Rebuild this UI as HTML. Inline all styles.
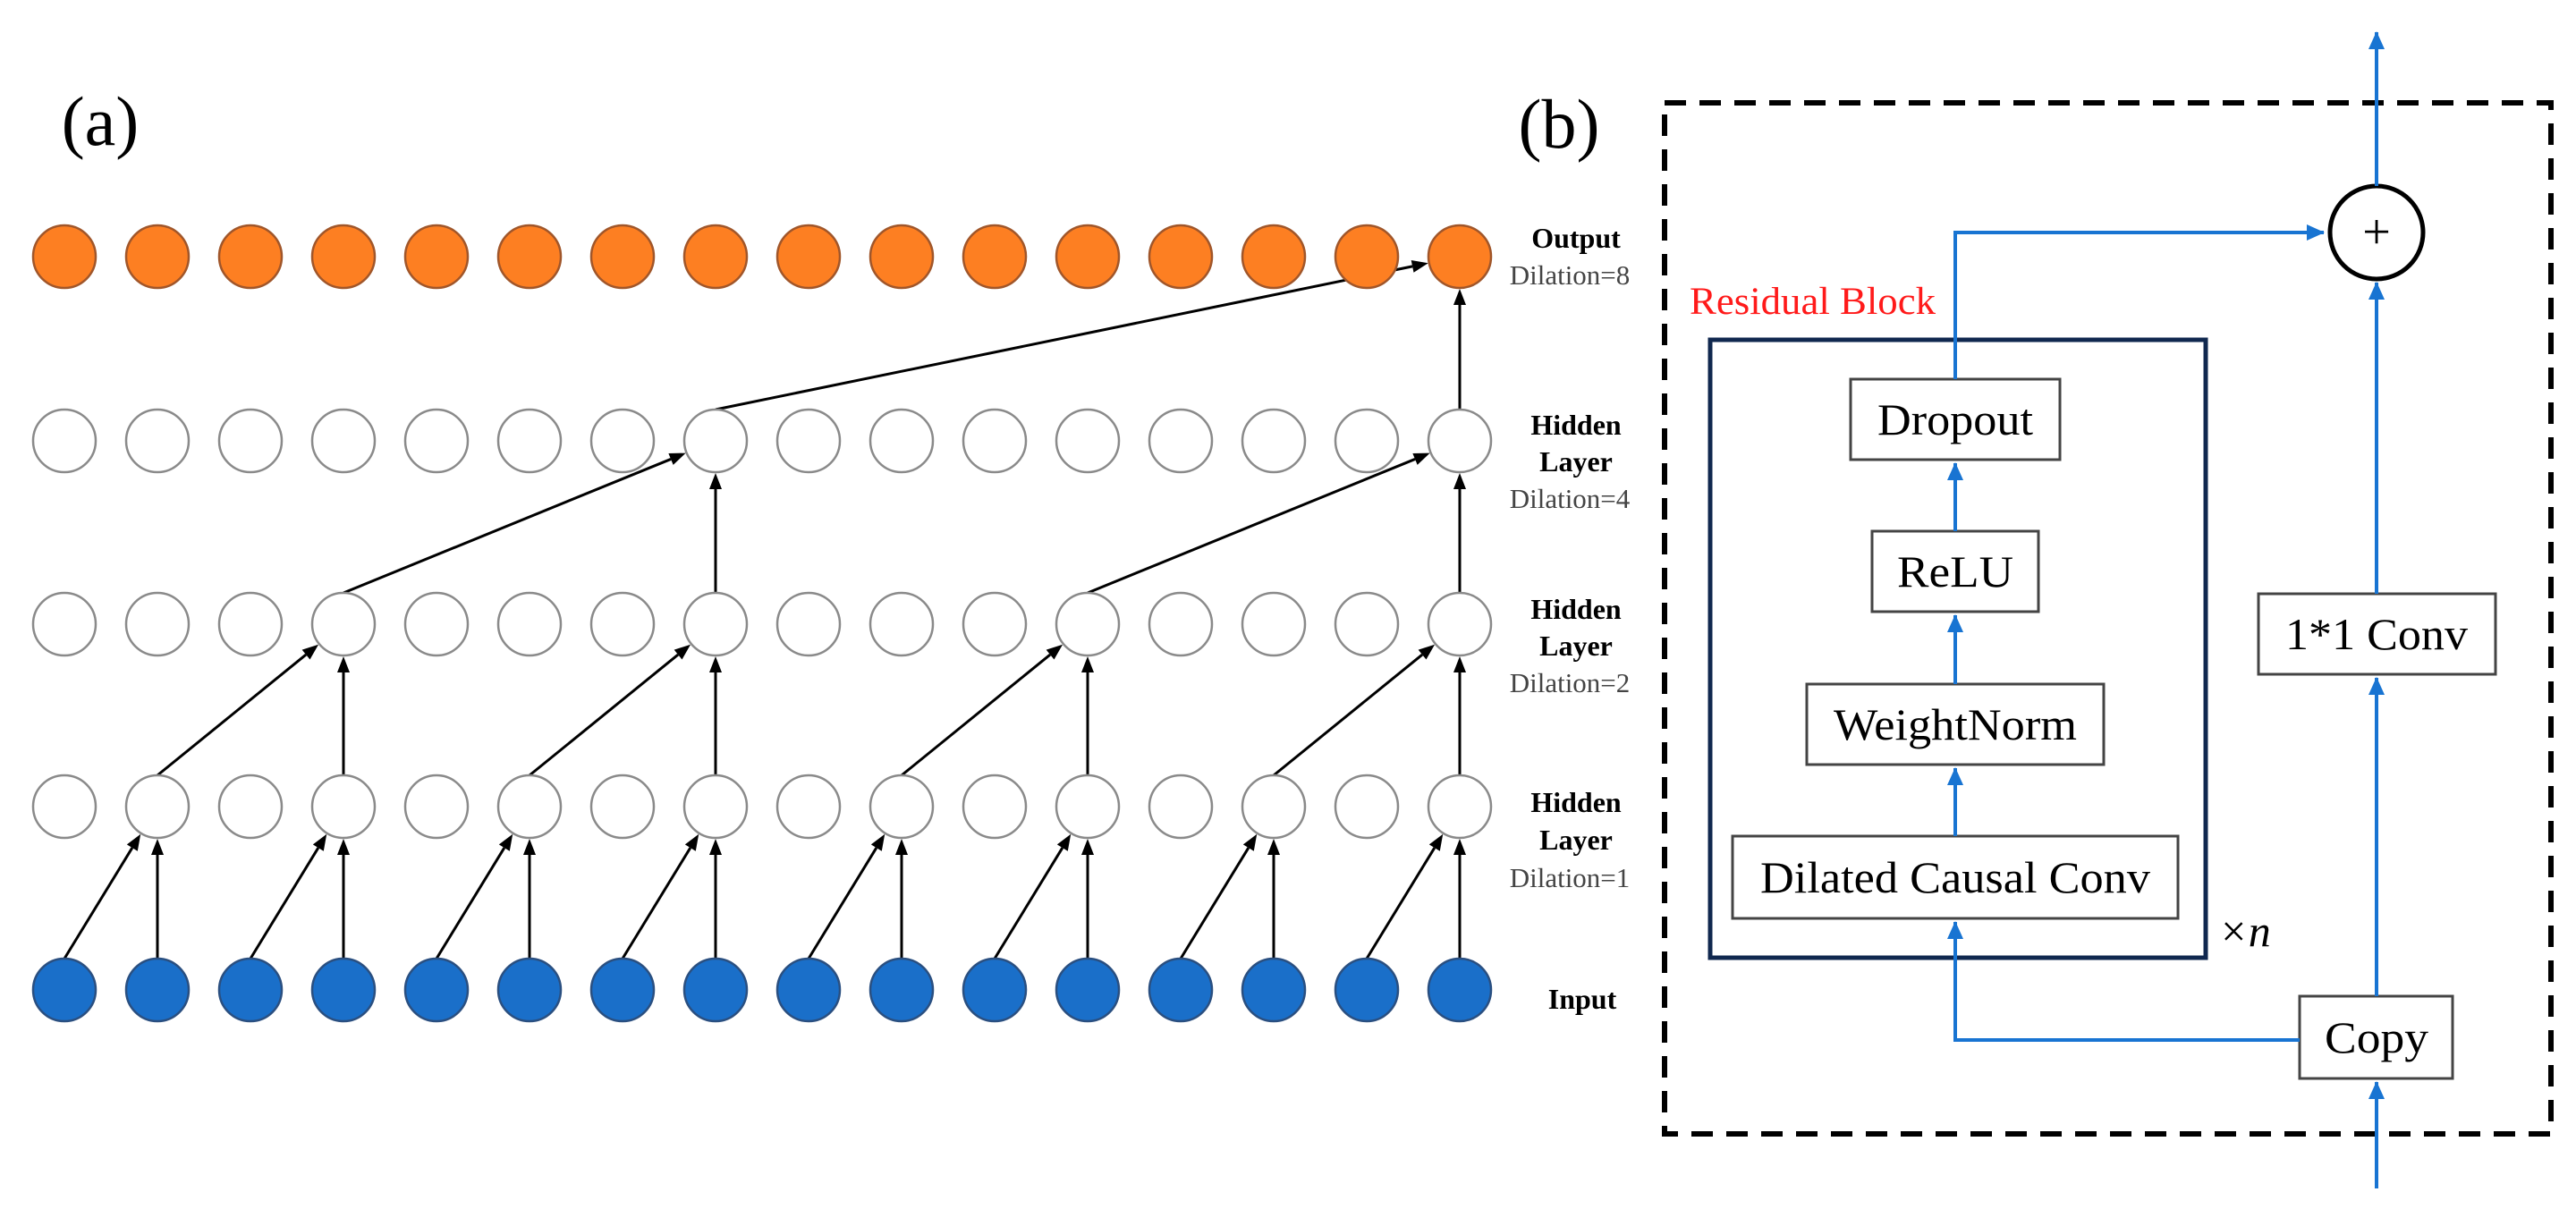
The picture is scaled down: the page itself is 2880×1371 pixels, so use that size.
<!DOCTYPE html>
<html><head><meta charset="utf-8">
<style>
html,body{margin:0;padding:0;background:#fff;}
svg{display:block;}
text{font-family:"Liberation Serif",serif;}
</style></head>
<body>
<svg id="s" width="2880" height="1371" viewBox="0 0 2880 1371" xmlns="http://www.w3.org/2000/svg">
<defs>
<marker id="ab" markerWidth="10" markerHeight="10" refX="9" refY="5" orient="auto" markerUnits="userSpaceOnUse" viewBox="0 0 10 10" style="overflow:visible">
<path d="M-10,-4 L10,5 L-10,14 Z" fill="#1874d2"/>
</marker>
</defs>
<rect width="2880" height="1371" fill="#fff"/>
<g id="left"></g>

<text x="112" y="162" font-size="78" text-anchor="middle">(a)</text>
<g text-anchor="middle">
<text x="1762" y="277" font-size="32" font-weight="bold">Output</text>
<text x="1755" y="318" font-size="31" fill="#444">Dilation=8</text>
<text x="1762" y="486" font-size="32" font-weight="bold">Hidden</text>
<text x="1762" y="527" font-size="32" font-weight="bold">Layer</text>
<text x="1755" y="568" font-size="31" fill="#444">Dilation=4</text>
<text x="1762" y="692" font-size="32" font-weight="bold">Hidden</text>
<text x="1762" y="733" font-size="32" font-weight="bold">Layer</text>
<text x="1755" y="774" font-size="31" fill="#444">Dilation=2</text>
<text x="1762" y="908" font-size="32" font-weight="bold">Hidden</text>
<text x="1762" y="950" font-size="32" font-weight="bold">Layer</text>
<text x="1755" y="992" font-size="31" fill="#444">Dilation=1</text>
<text x="1769" y="1128" font-size="32" font-weight="bold">Input</text>
</g>

<text x="1743" y="165" font-size="78" text-anchor="middle">(b)</text>
<rect x="1861" y="115" width="991" height="1153" fill="none" stroke="#000" stroke-width="6" stroke-dasharray="24,15"/>
<text x="1889" y="351" font-size="43" fill="#ff1a1a" textLength="275" lengthAdjust="spacingAndGlyphs">Residual Block</text>
<rect x="1912" y="380" width="554" height="691" fill="none" stroke="#10284f" stroke-width="5"/>
<text x="2480" y="1058" font-size="50" font-style="italic">×n</text>

<g fill="#fff" stroke="#444" stroke-width="3">
<rect x="2069" y="424" width="234" height="90"/>
<rect x="2093" y="594" width="186" height="90"/>
<rect x="2020" y="765" width="332" height="90"/>
<rect x="1937" y="935" width="498" height="92"/>
<rect x="2525" y="664" width="265" height="90"/>
<rect x="2571" y="1114" width="171" height="92"/>
</g>
<g font-size="50" text-anchor="middle">
<text x="2186" y="486" textLength="174" lengthAdjust="spacingAndGlyphs">Dropout</text>
<text x="2186" y="656" textLength="130" lengthAdjust="spacingAndGlyphs">ReLU</text>
<text x="2186" y="827" textLength="272" lengthAdjust="spacingAndGlyphs">WeightNorm</text>
<text x="2186" y="998" textLength="436" lengthAdjust="spacingAndGlyphs">Dilated Causal Conv</text>
<text x="2657" y="726" textLength="204" lengthAdjust="spacingAndGlyphs">1*1 Conv</text>
<text x="2657" y="1177" textLength="116" lengthAdjust="spacingAndGlyphs">Copy</text>
</g>

<circle cx="2657" cy="260" r="52" fill="#fff" stroke="#000" stroke-width="5"/>
<text x="2657" y="278" font-size="56" text-anchor="middle">+</text>

<g fill="none" stroke="#1874d2" stroke-width="4">
<path d="M2186,424 V260 H2598" marker-end="url(#ab)"/>
<line x1="2186" y1="594" x2="2186" y2="518" marker-end="url(#ab)"/>
<line x1="2186" y1="765" x2="2186" y2="688" marker-end="url(#ab)"/>
<line x1="2186" y1="935" x2="2186" y2="859" marker-end="url(#ab)"/>
<path d="M2571,1163 H2186 V1031" marker-end="url(#ab)"/>
<line x1="2657" y1="1329" x2="2657" y2="1210" marker-end="url(#ab)"/>
<line x1="2657" y1="1114" x2="2657" y2="758" marker-end="url(#ab)"/>
<line x1="2657" y1="664" x2="2657" y2="316" marker-end="url(#ab)"/>
<line x1="2657" y1="208" x2="2657" y2="36" marker-end="url(#ab)"/>
</g>
</svg>
<script>
(function(){
var g=document.getElementById('left'),NS='http://www.w3.org/2000/svg';
var X=function(i){return 72+104*i;};
var Y=[1107,902,698,493,287];
var R=35;
function el(n,a){var e=document.createElementNS(NS,n);for(var k in a)e.setAttribute(k,a[k]);g.appendChild(e);return e;}
function arrow(i0,r0,i1,r1){
 var x0=X(i0),y0=Y[r0]-R,cx=X(i1),cy=Y[r1];
 var dx=cx-x0,dy=cy-y0,L=Math.sqrt(dx*dx+dy*dy),ux=dx/L,uy=dy/L;
 var tx=cx-ux*(R+1),ty=cy-uy*(R+1);
 var hl=18,hw=7;
 var bx=tx-ux*hl,by=ty-uy*hl;
 el('line',{x1:x0,y1:y0,x2:bx,y2:by,stroke:'#000','stroke-width':3});
 el('path',{d:'M'+tx+','+ty+' L'+(bx-uy*hw)+','+(by+ux*hw)+' L'+(bx+uy*hw)+','+(by-ux*hw)+' Z',fill:'#000'});
}
var d=[1,2,4,8];
for(var r=1;r<=4;r++){
 var dl=d[r-1];
 for(var i=0;i<16;i++){
  if((i+1)%(2*dl)===0){arrow(i-dl,r-1,i,r);arrow(i,r-1,i,r);}
 }
}
for(var r=0;r<5;r++){
 for(var i=0;i<16;i++){
  var f=r===0?'#1a6fc9':(r===4?'#fd7f22':'#fff');
  var s=r===0?'#2a4f80':(r===4?'#a0562a':'#8a8a8a');
  el('circle',{cx:X(i),cy:Y[r],r:R,fill:f,stroke:s,'stroke-width':2.5});
 }
}
})();
</script>
</body></html>
